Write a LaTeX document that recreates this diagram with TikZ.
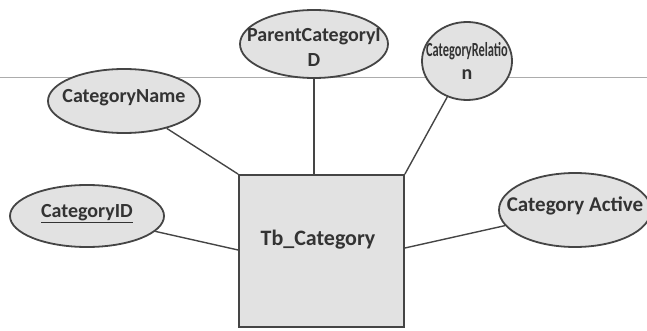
\documentclass[tikz,border=0pt]{standalone}
\usepackage{fontspec}
\setmainfont{Carlito}
\usetikzlibrary{shapes.geometric}
\definecolor{edgegray}{HTML}{454545}
\definecolor{txtgray}{HTML}{333333}
\definecolor{fillgray}{HTML}{E2E2E2}
\tikzset{
  attr/.style={ellipse, draw=edgegray, line width=1.8pt, fill=fillgray, inner sep=0pt},
  attrtext/.style={text=txtgray, font=\bfseries\fontsize{20}{25}\selectfont, align=center, inner sep=0pt},
  entity/.style={rectangle, draw=edgegray, line width=1.8pt, fill=fillgray, inner sep=0pt},
  entitytext/.style={text=txtgray, font=\bfseries\fontsize{22}{22}\selectfont, inner sep=0pt},
  link/.style={draw=edgegray, line width=1.4pt},
  header/.style={draw=gray!65, line width=0.8pt}
}
\begin{document}
\begin{tikzpicture}[x=1pt,y=-1pt]
\useasboundingbox (0,0) rectangle (647,331);
\coordinate (hl) at (0,77);
\coordinate (hr) at (647,77);
\draw[header] (hl) -- (hr);
% entity
\node[entity, minimum width=165pt, minimum height=152pt] (tb) at (321.5,251) {};
\node[entitytext] (tbl) at (318,240) {Tb\_Category};
% attribute ellipses
\node[attr, minimum width=152pt, minimum height=64pt] (name) at (124,101) {};
\node[attr, minimum width=148pt, minimum height=68pt] (pid) at (314,44) {};
\node[attr, minimum width=90pt, minimum height=78pt] (rel) at (467,61) {};
\node[attr, minimum width=154pt, minimum height=62pt] (cid) at (87,216) {};
\node[attr, minimum width=152pt, minimum height=74pt] (act) at (575,210) {};
% attribute texts
\node[attrtext] (namel) at (124,98) {CategoryName};
\node[attrtext] (pidl) at (314,47) {ParentCategoryI\\D};
\node[attrtext, font=\bfseries\fontsize{20}{23}\selectfont] (rell) at (467,61) {\scalebox{0.62}[1]{CategoryRelatio}\\n};
\node[attrtext] (cidl) at (87,214) {\underline{CategoryID}};
\node[attrtext, font=\bfseries\fontsize{21}{21}\selectfont] (actl) at (575,206) {Category Active};
% connectors
\draw[link] (name) -- (tb.north west);
\draw[link] (pid.south) -- (pid.south |- tb.north);
\draw[link] (rel) -- (tb.north east);
\draw[link] (cid) -- (tb.west |- 0,250);
\draw[link] (tb.east |- 0,248) -- (act);
\end{tikzpicture}
\end{document}
